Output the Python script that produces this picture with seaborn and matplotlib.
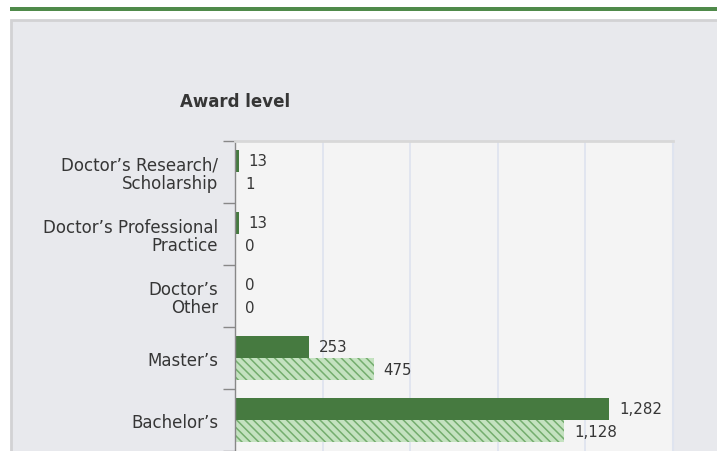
import matplotlib
matplotlib.use('Agg')
import matplotlib.pyplot as plt
from matplotlib.patches import Rectangle
import numpy as np
import pandas as pd
import seaborn as sns

# data
categories = ["Doctor’s Research/\nScholarship", "Doctor’s Professional\nPractice",
              "Doctor’s\nOther", "Master’s", "Bachelor’s"]
groups = ["Your institution", "Comparison Group Median"]
institution = [13, 13, 0, 253, 1282]
comparison = [1, 0, 0, 475, 1128]

DARK = '#467a40'
LIGHT = '#c4e2c0'
HATCH = '#74ad6e'
TEXT = '#363636'

sns.set_theme(style='white')
plt.rcParams['font.family'] = ['DejaVu Sans']
plt.rcParams['hatch.color'] = HATCH
plt.rcParams['hatch.linewidth'] = 1.1

df = pd.DataFrame({
    'Award level': categories * 2,
    'Count': institution + comparison,
    'Group': [groups[0]] * len(categories) + [groups[1]] * len(categories),
})

W, H = 717, 452
fig = plt.figure(figsize=(W / 100, H / 100), dpi=100, facecolor='white')

# green rule on top and grey panel behind the chart
fig.add_artist(Rectangle((10 / W, 1 - 12 / H), 1, 4 / H, transform=fig.transFigure,
                         facecolor='#4f8a4a', edgecolor='none', zorder=-2))
fig.add_artist(Rectangle((11 / W, -0.05), 1.2, 1 - 21 / H + 0.05, transform=fig.transFigure,
                         facecolor='#e8e9ed', edgecolor='#d2d2d4', linewidth=2, zorder=-2))

ax = fig.add_axes([235 / W, 0, (673 - 235) / W, (452 - 142) / H])
ax.set_facecolor('#f4f4f4')

sns.barplot(data=df, y='Award level', x='Count', hue='Group', orient='h',
            palette=[DARK, LIGHT], width=0.72, ax=ax, legend=False,
            saturation=1, linewidth=0)

for p in ax.containers[1]:
    p.set_hatch('\\\\\\\\')
    p.set_edgecolor(HATCH)
    p.set_linewidth(0)

for cont, vals in zip(ax.containers, [institution, comparison]):
    ax.bar_label(cont, labels=[f'{v:,}' for v in vals], padding=7,
                 fontsize=10.8, color=TEXT)

ax.set_xlim(0, 1500)
ax.set_ylim(4.5, -0.5)
ax.set_xticks(np.arange(0, 1501, 300))
ax.set_xticklabels([])
ax.grid(axis='x', color='#dfe4ef', linewidth=1.3)
ax.set_axisbelow(True)
ax.tick_params(axis='x', length=0)

ax.set_yticks(range(len(categories)))
ax.set_yticklabels(categories, fontsize=12, color=TEXT, linespacing=1.0)
for lab in ax.get_yticklabels():
    lab.set_multialignment('right')
ax.tick_params(axis='y', which='major', left=True, length=0, pad=12)
ax.set_yticks(np.arange(-0.5, len(categories), 1), minor=True)
ax.tick_params(axis='y', which='minor', left=True, direction='out',
               length=9, width=1, color='#888888')
ax.set_xlabel('')
ax.set_ylabel('')

ax.spines['left'].set_color('#888888')
ax.spines['left'].set_linewidth(1)
ax.spines['top'].set_color('#d8d8d8')
ax.spines['top'].set_linewidth(2)
ax.spines['right'].set_color('#dfe4ef')
ax.spines['right'].set_linewidth(1.5)
ax.spines['bottom'].set_visible(False)

fig.text(235 / W, 1 - 102 / H, 'Award level', ha='center', va='center',
         fontsize=12, fontweight='bold', color=TEXT)

fig.savefig('out.png', dpi=100, facecolor='white')
